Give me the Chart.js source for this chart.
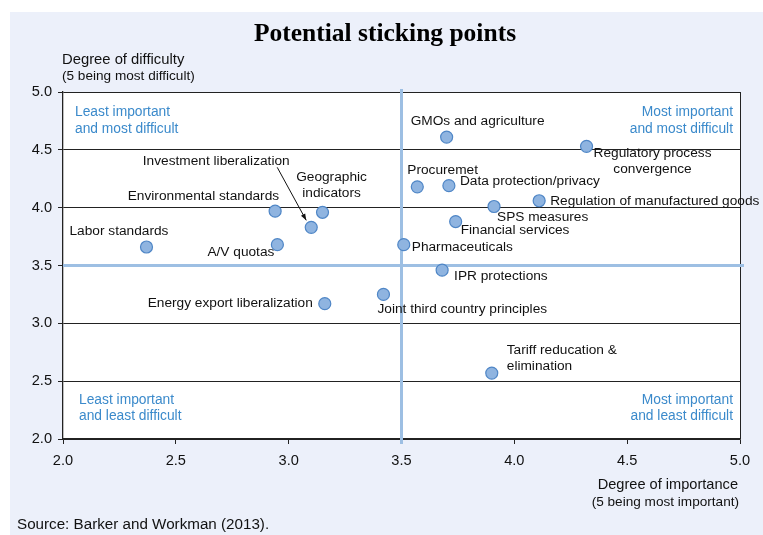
<!DOCTYPE html>
<html>
<head>
<meta charset="utf-8">
<script src="https://cdn.jsdelivr.net/npm/chart.js@4.4.1/dist/chart.umd.min.js"></script>
<style>
  html, body { margin: 0; padding: 0; background: #fff; }
  #chart { display: block; }
</style>
</head>
<body>
<canvas id="chart" width="763" height="535"></canvas>
<script>
// data
const issues = [
  'Labor standards', 'A/V quotas', 'Environmental standards', 'Investment liberalization',
  'Geographic|indicators', 'Energy export liberalization', 'Joint third country principles',
  'Pharmaceuticals', 'IPR protections', 'Procuremet', 'Data protection/privacy',
  'GMOs and agriculture', 'Financial services', 'SPS measures',
  'Regulation of manufactured goods', 'Regulatory process|convergence', 'Tariff reducation &|elimination'
];
const importance = [2.37, 2.95, 2.94, 3.10, 3.15, 3.16, 3.42, 3.51, 3.68, 3.57, 3.71, 3.70, 3.74, 3.91, 4.11, 4.32, 3.90];
const difficulty = [3.66, 3.68, 3.97, 3.83, 3.96, 3.17, 3.25, 3.68, 3.46, 4.18, 4.19, 4.61, 3.88, 4.01, 4.06, 4.53, 2.57];
const xTicks = [2.0, 2.5, 3.0, 3.5, 4.0, 4.5, 5.0];
const yTicks = [2.0, 2.5, 3.0, 3.5, 4.0, 4.5, 5.0];
const midPoint = 3.5;

// label placement relative to each point: [dx, dy, align]
const labelPos = [
  [-77, -16, 'left'], [-3, 8, 'right'], [4, -15, 'right'], [-95, -66, 'center'],
  [9, -35, 'center'], [-12, 0, 'right'], [-6, 15, 'left'],
  [8, 3, 'left'], [12, 6, 'left'], [-10, -17, 'left'], [11, -4, 'left'],
  [-36, -16, 'left'], [5, 9, 'left'], [3, 11, 'left'],
  [11, 0, 'left'], [66, 7, 'center'], [15, -23, 'left']
];

const SANS = '"Liberation Sans", Arial, sans-serif';
const BLUE_TXT = '#3b8acb';
const REF_LINE = '#9dbfe3';

const chartDecor = {
  id: 'chartDecor',
  beforeDraw(chart) {
    const { ctx, chartArea: a } = chart;
    ctx.save();
    ctx.fillStyle = '#ecf0fa';
    ctx.fillRect(10, 12, 753, 523);
    ctx.fillStyle = '#ffffff';
    ctx.fillRect(a.left, a.top, a.right - a.left, a.bottom - a.top);
    ctx.restore();
  },
  beforeDatasetsDraw(chart) {
    const { ctx, chartArea: a, scales } = chart;
    const px = scales.x.getPixelForValue(midPoint);
    const py = scales.y.getPixelForValue(midPoint);
    ctx.save();
    ctx.strokeStyle = REF_LINE;
    ctx.lineWidth = 3;
    ctx.beginPath();
    ctx.moveTo(px, a.top - 3);
    ctx.lineTo(px, a.bottom + 5);
    ctx.moveTo(a.left, py);
    ctx.lineTo(a.right + 4, py);
    ctx.stroke();
    ctx.restore();
  },
  afterDatasetsDraw(chart) {
    const { ctx, scales } = chart;
    ctx.save();
    ctx.font = '13.7px ' + SANS;
    ctx.fillStyle = '#111';
    ctx.textBaseline = 'middle';
    issues.forEach((name, i) => {
      const x = scales.x.getPixelForValue(importance[i]);
      const y = scales.y.getPixelForValue(difficulty[i]);
      const [dx, dy, align] = labelPos[i];
      ctx.textAlign = align;
      name.split('|').forEach((line, j) => {
        ctx.fillText(line, x + dx, y + dy + j * 16);
      });
    });
    // arrow for investment liberalization
    const ix = scales.x.getPixelForValue(importance[3]);
    const iy = scales.y.getPixelForValue(difficulty[3]);
    const x0 = ix - 34, y0 = iy - 60, x1 = ix - 5, y1 = iy - 7;
    ctx.strokeStyle = '#111';
    ctx.lineWidth = 1;
    ctx.beginPath();
    ctx.moveTo(x0, y0);
    ctx.lineTo(x1, y1);
    ctx.stroke();
    const ang = Math.atan2(y1 - y0, x1 - x0);
    ctx.beginPath();
    ctx.moveTo(x1, y1);
    ctx.lineTo(x1 - 7 * Math.cos(ang - 0.35), y1 - 7 * Math.sin(ang - 0.35));
    ctx.lineTo(x1 - 7 * Math.cos(ang + 0.35), y1 - 7 * Math.sin(ang + 0.35));
    ctx.closePath();
    ctx.fillStyle = '#111';
    ctx.fill();
    ctx.restore();
  },
  afterDraw(chart) {
    const { ctx, chartArea: a } = chart;
    ctx.save();
    ctx.textBaseline = 'middle';
    // title
    ctx.fillStyle = '#000';
    ctx.font = 'bold 25.5px "Liberation Serif", "Times New Roman", serif';
    ctx.textAlign = 'center';
    ctx.fillText('Potential sticking points', 385, 34);
    // axis titles
    ctx.fillStyle = '#111';
    ctx.textAlign = 'left';
    ctx.font = '14.8px ' + SANS;
    ctx.fillText('Degree of difficulty', 62, 60);
    ctx.font = '13.6px ' + SANS;
    ctx.fillText('(5 being most difficult)', 62, 76);
    ctx.textAlign = 'right';
    ctx.font = '14.6px ' + SANS;
    ctx.fillText('Degree of importance', 738, 485);
    ctx.font = '13.6px ' + SANS;
    ctx.fillText('(5 being most important)', 739, 502);
    // source
    ctx.textAlign = 'left';
    ctx.font = '15.2px ' + SANS;
    ctx.fillText('Source: Barker and Workman (2013).', 17, 525);
    // quadrant captions
    ctx.fillStyle = BLUE_TXT;
    ctx.font = '13.8px ' + SANS;
    ctx.fillText('Least important', a.left + 12, a.top + 20);
    ctx.fillText('and most difficult', a.left + 12, a.top + 37);
    ctx.fillText('Least important', a.left + 16, a.bottom - 39);
    ctx.fillText('and least difficult', a.left + 16, a.bottom - 23);
    ctx.textAlign = 'right';
    ctx.fillText('Most important', a.right - 7, a.top + 20);
    ctx.fillText('and most difficult', a.right - 7, a.top + 37);
    ctx.fillText('Most important', a.right - 7, a.bottom - 39);
    ctx.fillText('and least difficult', a.right - 7, a.bottom - 23);
    ctx.restore();
  }
};

const ctx = document.getElementById('chart').getContext('2d');
new Chart(ctx, {
  type: 'scatter',
  data: {
    datasets: [{
      label: 'Sticking points',
      data: importance.map((x, i) => ({ x, y: difficulty[i] })),
      backgroundColor: '#8fb4e0',
      borderColor: '#4f86c6',
      borderWidth: 1.2,
      pointRadius: 6,
    }],
  },
  options: {
    responsive: false,
    animation: false,
    layout: { padding: { top: 92, right: 23, left: 0, bottom: 0 } },
    plugins: {
      legend: { display: false },
      tooltip: { enabled: false },
    },
    scales: {
      x: {
        type: 'linear',
        min: 2,
        max: 5,
        afterBuildTicks: (s) => { s.ticks = xTicks.map(v => ({ value: v })); },
        afterFit: (s) => { s.height = 96; },
        ticks: {
          color: '#111',
          font: { family: SANS, size: 14.6 },
          padding: 8,
          callback: (v) => Number(v).toFixed(1),
        },
        grid: {
          color: (c) => (c.tick && c.tick.value === 5 ? '#222' : 'rgba(0,0,0,0)'),
          tickColor: '#222',
          tickLength: 5,
        },
        border: { color: '#222', width: 1.3 },
      },
      y: {
        type: 'linear',
        min: 2,
        max: 5,
        afterBuildTicks: (s) => { s.ticks = yTicks.map(v => ({ value: v })); },
        afterFit: (s) => { s.width = 63; },
        ticks: {
          color: '#111',
          font: { family: SANS, size: 14.6 },
          padding: 6,
          callback: (v) => Number(v).toFixed(1),
        },
        grid: {
          color: (c) => (c.tick && c.tick.value === midPoint ? 'rgba(0,0,0,0)' : '#222'),
          tickColor: '#222',
          tickLength: 5,
        },
        border: { color: '#222', width: 1.3 },
      },
    },
  },
  plugins: [chartDecor],
});
</script>
</body>
</html>
